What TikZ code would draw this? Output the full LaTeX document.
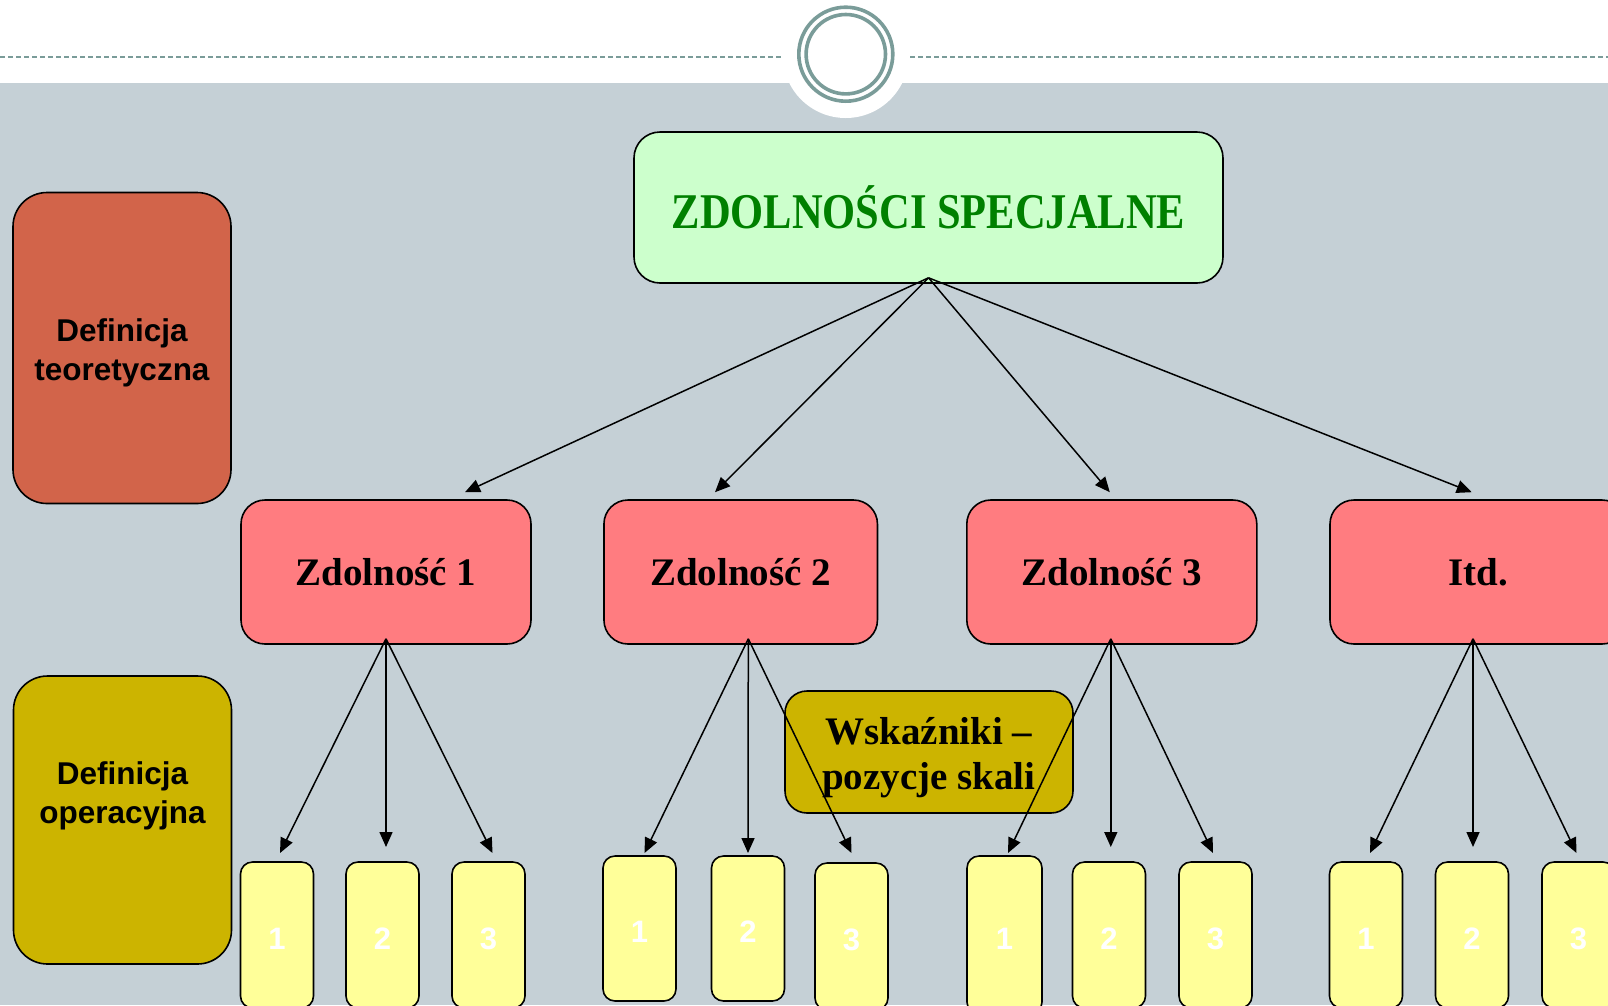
\documentclass[tikz,border=0pt]{standalone}
\usepackage{fontspec}
\setmainfont{Liberation Serif}
\newfontfamily\arialfont{Liberation Sans}
\newfontfamily\headfont[FakeStretch=0.85]{Liberation Serif}
\usetikzlibrary{arrows.meta}

\definecolor{bgband}{RGB}{197,208,214}
\definecolor{ringcol}{RGB}{122,156,153}
\definecolor{teorcol}{RGB}{210,100,74}
\definecolor{opercol}{RGB}{204,180,0}
\definecolor{topcol}{RGB}{204,255,204}
\definecolor{zpink}{RGB}{255,124,128}
\definecolor{syellow}{RGB}{255,255,153}
\definecolor{headgreen}{RGB}{0,128,0}

\tikzset{
  defbox/.style={draw=black, line width=1.6pt, rounded corners=34pt, minimum width=218pt},
  deftext/.style={font=\arialfont\bfseries\fontsize{31.5}{39}\selectfont, align=center},
  zbox/.style={draw=black, fill=zpink, line width=1.6pt, rounded corners=24pt, minimum height=144pt,
    font=\bfseries\fontsize{39}{46}\selectfont},
  sbox/.style={draw=black, fill=syellow, line width=1.6pt, rounded corners=12pt, minimum width=73pt,
    text=white, text height=28pt, text depth=0pt, font=\arialfont\bfseries\fontsize{31}{37}\selectfont},
  arr/.style={-{Triangle[length=15pt,width=13pt]}, line width=1.5pt},
}

\begin{document}
\begin{tikzpicture}[x=1pt,y=-1pt]
    \useasboundingbox (0,0) rectangle (1608,1005);
    % tlo
    \fill[white] (0,0) rectangle (1608,83);
    \fill[bgband] (0,83) rectangle (1608,1005);
    \draw[ringcol, line width=2pt, dash pattern=on 5.3pt off 2.7pt] (0,57) -- (782,57);
    \draw[ringcol, line width=2pt, dash pattern=on 5.3pt off 2.7pt] (910,57) -- (1608,57);
    \fill[white] (845.7,55) circle[radius=63pt];
    \draw[ringcol, line width=3.6pt] (845.8,54.2) circle[radius=47pt];
    \draw[ringcol, line width=3.6pt] (845.8,54.2) circle[radius=39.7pt];

    % definicje
    \node[defbox, fill=teorcol, minimum height=311pt] (teor) at (122,348) {};
    \node[deftext] (teortext) at (122,353) {Definicja\\teoretyczna};
    \node[defbox, fill=opercol, minimum height=288pt] (oper) at (122.5,820) {};
    \node[deftext] (opertext) at (122.5,796) {Definicja\\operacyjna};

    % glowny
    \node[draw=black, fill=topcol, line width=1.6pt, rounded corners=26pt, minimum width=589pt, minimum height=151pt,
      text=headgreen, font=\headfont\bfseries\fontsize{50}{60}\selectfont] (top) at (928.5,207.5) {ZDOLNOŚCI SPECJALNE};

    % zdolnosci
    \node[zbox, minimum width=290pt] (z1) at (386,572) {Zdolność 1};
    \node[zbox, minimum width=273.5pt] (z2) at (740.7,572) {Zdolność 2};
    \node[zbox, minimum width=290pt] (z3) at (1111.8,572) {Zdolność 3};
    \node[zbox, minimum width=296pt] (z4) at (1478,572) {Itd.};

    % wskazniki
    \node[draw=black, fill=opercol, line width=1.6pt, rounded corners=22pt, minimum width=288pt, minimum height=122pt] (wsk) at (929,752) {};
    \node[align=center, font=\bfseries\fontsize{39}{45}\selectfont] (wsktext) at (929,758) {Wskaźniki –\\pozycje skali};

    % pozycje
    \node[sbox, minimum height=146pt] (s11) at (277,935) {1};
    \node[sbox, minimum height=146pt] (s12) at (382.5,935) {2};
    \node[sbox, minimum height=146pt] (s13) at (488.5,935) {3};
    \node[sbox, minimum height=145pt] (s21) at (639.5,928.5) {1};
    \node[sbox, minimum height=145pt] (s22) at (748,928.5) {2};
    \node[sbox, minimum height=147pt] (s23) at (851.5,936.5) {3};
    \node[sbox, minimum height=158pt, minimum width=75pt] (s31) at (1004.5,935) {1};
    \node[sbox, minimum height=146pt] (s32) at (1109,935) {2};
    \node[sbox, minimum height=146pt] (s33) at (1215.5,935) {3};
    \node[sbox, minimum height=146pt] (s41) at (1366,935) {1};
    \node[sbox, minimum height=146pt] (s42) at (1472,935) {2};
    \node[sbox, minimum height=146pt] (s43) at (1578.5,935) {3};

    \coordinate (tips) at (0,853);

    % strzalki
    \draw[arr] ([yshift=6pt]top.south) -- ([xshift=79pt,yshift=7pt]z1.north);
    \draw[arr] ([yshift=6pt]top.south) -- ([xshift=-25.7pt,yshift=7pt]z2.north);
    \draw[arr] ([yshift=6pt]top.south) -- ([xshift=-2pt,yshift=7pt]z3.north);
    \draw[arr] ([yshift=6pt]top.south) -- ([xshift=-6.3pt,yshift=7pt]z4.north);

    \draw[arr] ([yshift=6pt]z1.south) -- ([xshift=3pt]s11.north |- tips);
    \draw[arr] ([yshift=6pt]z1.south) -- ([yshift=6pt]z1.south |- tips);
    \draw[arr] ([yshift=6pt]z1.south) -- ([xshift=4pt]s13.north |- tips);

    \draw[arr] ([xshift=7.6pt,yshift=6pt]z2.south) -- ([xshift=5pt]s21.north |- tips);
    \draw[arr] ([xshift=7.6pt,yshift=6pt]z2.south) -- (s22.north |- tips);
    \draw[arr] ([xshift=7.6pt,yshift=6pt]z2.south) -- (s23.north |- tips);

    \draw[arr] ([xshift=-1pt,yshift=6pt]z3.south) -- ([xshift=3.5pt]s31.north |- tips);
    \draw[arr] ([xshift=-1pt,yshift=6pt]z3.south) -- ([xshift=-1pt,yshift=6pt]z3.south |- tips);
    \draw[arr] ([xshift=-1pt,yshift=6pt]z3.south) -- ([xshift=-2.5pt]s33.north |- tips);

    \draw[arr] ([xshift=-5pt,yshift=6pt]z4.south) -- ([xshift=4pt]s41.north |- tips);
    \draw[arr] ([xshift=-5pt,yshift=6pt]z4.south) -- ([xshift=-5pt,yshift=6pt]z4.south |- tips);
    \draw[arr] ([xshift=-5pt,yshift=6pt]z4.south) -- ([xshift=-2pt]s43.north |- tips);
\end{tikzpicture}
\end{document}
